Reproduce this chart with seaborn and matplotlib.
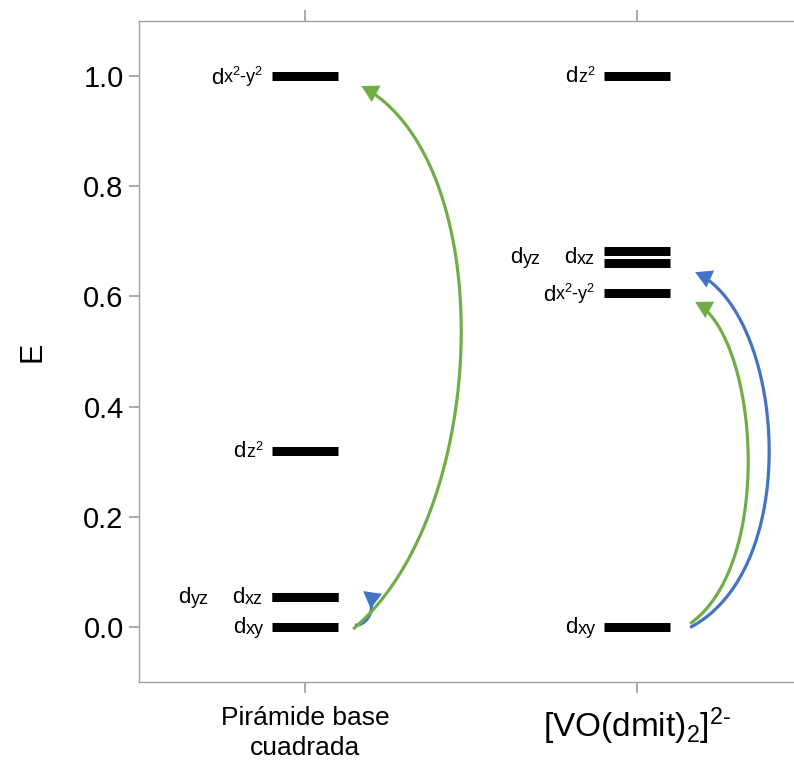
import numpy as np
import pandas as pd
import matplotlib
matplotlib.use("Agg")
import matplotlib.pyplot as plt
from matplotlib.transforms import offset_copy
import seaborn as sns

# Energy levels of the d orbitals for each coordination environment
systems = ["Pirámide base\ncuadrada", "[VO(dmit)$_{2}$]$^{\\mathregular{2\u2010}}$"]
orbitals_sp = ["dxy", "dxz", "dyz", "dz²", "dx²-y²"]
energies_sp = [0.0, 0.055, 0.055, 0.32, 1.0]
orbitals_vo = ["dxy", "dx²-y²", "dyz", "dxz", "dz²"]
energies_vo = [0.0, 0.607, 0.661, 0.682, 1.0]

# Electronic transitions between levels
trans_system = [0, 0, 1, 1]
trans_from = [0.003, -0.004, 0.006, -0.001]
trans_to = [0.065, 0.982, 0.59, 0.644]
trans_color = ["#4472C4", "#70AD47", "#70AD47", "#4472C4"]

yticks = [0.0, 0.2, 0.4, 0.6, 0.8, 1.0]

sns.set_theme(style="ticks")
plt.rcParams["font.family"] = ["Liberation Sans", "DejaVu Sans"]
plt.rcParams["text.color"] = "black"
plt.rcParams["axes.labelcolor"] = "black"
plt.rcParams["mathtext.fontset"] = "custom"
plt.rcParams["mathtext.rm"] = "Liberation Sans"
plt.rcParams["mathtext.it"] = "Liberation Sans"
plt.rcParams["mathtext.bf"] = "Liberation Sans"

fig = plt.figure(figsize=(7.94, 7.74), dpi=100)
ax = fig.add_axes([139 / 794, 92 / 774, 664 / 794, 661 / 774])
ax.set_xlim(-0.5, 1.5)
ax.set_ylim(-0.1, 1.1)

half = 0.1
rows = []
for sx, (orbs, ens) in enumerate([(orbitals_sp, energies_sp), (orbitals_vo, energies_vo)]):
    for orb, e in zip(orbs, ens):
        uid = f"{sx}-{orb}"
        rows.append({"x": sx - half, "E": e, "level": uid})
        rows.append({"x": sx + half, "E": e, "level": uid})
levels = pd.DataFrame(rows)

sns.lineplot(data=levels, x="x", y="E", units="level", estimator=None,
             color="black", lw=6.5, solid_capstyle="butt", ax=ax, legend=False)

# Orbital labels: a large "d" followed by the smaller orbital index
label_tr = offset_copy(ax.transData, fig=fig, y=-5, units="points")


def orbital_label(x, y, name):
    index = name[1:].replace("²", "$^{2}$")
    suf = ax.text(x, y, index, ha="right", va="baseline", fontsize=13,
                  transform=label_tr)
    ax.annotate(name[0], xy=(0, 0), xycoords=suf, ha="right", va="bottom",
                fontsize=16)


for sx, (orbs, ens) in enumerate([(orbitals_sp, energies_sp), (orbitals_vo, energies_vo)]):
    pair = {}
    for orb, e in zip(orbs, ens):
        if orb in ("dxz", "dyz"):
            pair[orb] = e
            continue
        orbital_label(sx - 0.125, e, orb)
    ym = np.mean(list(pair.values()))
    orbital_label(sx - 0.128, ym, "dxz")
    orbital_label(sx - 0.29, ym, "dyz")

# Transition arrows: cubic curves bulging to the right that hook over at the end.
# Control handles are offsets (in data units) from the start and end points.
x_from = [0.15, 0.145, 0.16, 0.16]
x_to = [0.175, 0.17, 0.175, 0.175]
handle_out = [(0.045, 0.0), (0.414, 0.21), (0.256, 0.109), (0.346, 0.109)]
handle_in = [(0.048, -0.022), (0.42, -0.136), (0.19, -0.062), (0.268, -0.073)]


def bezier(p, t):
    t = np.asarray(t)[:, None]
    return ((1 - t) ** 3 * p[0] + 3 * (1 - t) ** 2 * t * p[1]
            + 3 * (1 - t) * t ** 2 * p[2] + t ** 3 * p[3])


for s, y0, y1, c, xa, xb, h0, h1 in zip(trans_system, trans_from, trans_to, trans_color,
                                         x_from, x_to, handle_out, handle_in):
    p0 = np.array([s + xa, y0])
    p3 = np.array([s + xb, y1])
    ctrl = np.array([p0, p0 + h0, p3 + h1, p3])
    curve = bezier(ctrl, np.linspace(0, 1, 400))
    # stop the shaft a few pixels short of the tip so the head covers its end
    disp = ax.transData.transform(curve)
    dist = np.hypot(*(disp - disp[-1]).T)
    keep = dist > 7
    stop = np.argmin(keep) if not keep.all() else len(keep)
    ax.plot(curve[:stop, 0], curve[:stop, 1], color=c, lw=2.3, solid_capstyle="butt")
    tail = p3 + 0.25 * (ctrl[2] - p3)
    ax.annotate("", xy=p3, xytext=tail,
                arrowprops=dict(arrowstyle="-|>,head_length=0.75,head_width=0.42",
                                mutation_scale=16, lw=0, color=c,
                                shrinkA=0, shrinkB=0))

ax.set_xticks([0, 1])
ax.set_xticklabels(systems, fontsize=19, linespacing=1.35)
ax.get_xticklabels()[1].set_fontsize(24)
ax.set_yticks(yticks)
ax.set_yticklabels([f"{v:.1f}" for v in yticks], fontsize=21)
ax.set_xlabel("")
ax.set_ylabel("E", fontsize=22, labelpad=26)

spine_c = "#a0a0a0"
for side in ["left", "bottom", "top"]:
    ax.spines[side].set_color(spine_c)
    ax.spines[side].set_linewidth(1.0)
ax.spines["right"].set_visible(False)
ax.tick_params(axis="y", length=7, color=spine_c, labelcolor="black", pad=4)
ax.tick_params(axis="x", length=8, color=spine_c, labelcolor="black", pad=9, top=True)

fig.savefig("out.png", dpi=100)
